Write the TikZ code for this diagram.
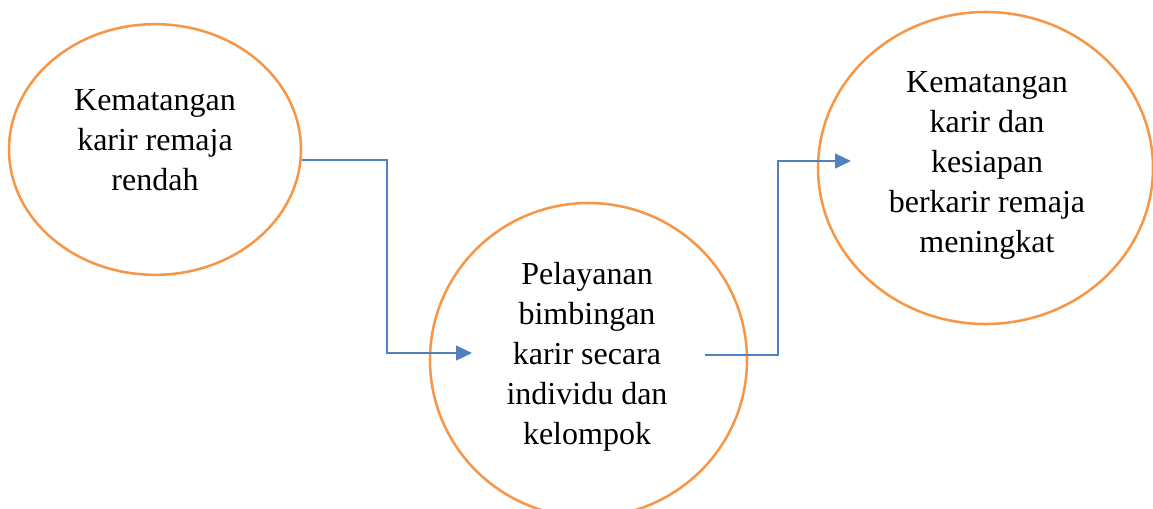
\documentclass[tikz,border=0pt]{standalone}
\usepackage{fontspec}
\setmainfont{Liberation Serif}
\usetikzlibrary{shapes.geometric,arrows.meta}
\definecolor{ringorange}{HTML}{F79646}
\definecolor{linkblue}{HTML}{4F81BD}
\begin{document}
\begin{tikzpicture}[x=0.75pt,y=-0.75pt,
  ring/.style={draw=ringorange,line width=1.9pt,ellipse,inner sep=0pt},
  txt/.style={align=center,font=\fontsize{24}{30}\selectfont,inner sep=0pt},
  link/.style={draw=linkblue,line width=1.8pt,-{Triangle[length=12pt,width=11pt]}}]
  \useasboundingbox (0,0) rectangle (1153,508);
  \clip (0,0) rectangle (1153,508);

  % stages
  \node[ring,minimum width=219pt,minimum height=188pt] (L) at (155,149.5) {};
  \node[ring,minimum width=237.75pt,minimum height=235.5pt] (M) at (588.5,360) {};
  \node[ring,minimum width=251.25pt,minimum height=234pt] (R) at (985.5,168) {};

  \node[txt] (Lt) at (155,140) {Kematangan\\karir remaja\\rendah};
  \node[txt] (Mt) at (587,357) {Pelayanan\\bimbingan\\karir secara\\individu dan\\kelompok};
  \node[txt] (Rt) at (987,165) {Kematangan\\karir dan\\kesiapan\\berkarir remaja\\meningkat};

  % connector ends inside the circles
  \coordinate (inM) at (472,353);
  \coordinate (outM) at (705,355);
  \coordinate (inR) at (851,161);

  \draw[link] (L.-4) -- ++(85,0) |- (inM);
  \draw[link] (outM) -- ++(73,0) |- (inR);
\end{tikzpicture}
\end{document}
